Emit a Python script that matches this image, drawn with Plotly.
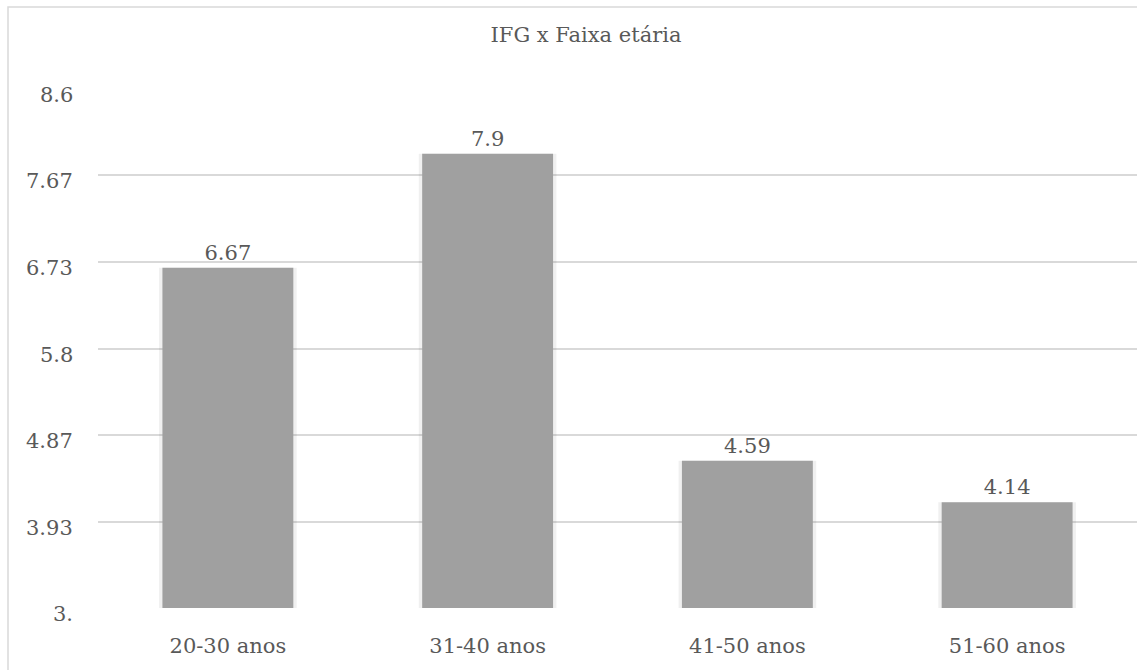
import plotly.graph_objects as go

categories = ["20-30 anos", "31-40 anos", "41-50 anos", "51-60 anos"]
values = [6.67, 7.9, 4.59, 4.14]
value_labels = ["6.67", "7.9", "4.59", "4.14"]
y_tickvals = [3.0, 3.93, 4.87, 5.8, 6.73, 7.67, 8.6]
y_ticktext = ["3.", "3.93", "4.87", "5.8", "6.73", "7.67", "8.6"]
title_text = "IFG x Faixa etária"

W, H = 1137, 670
L, R, T, B = 98, 0, 89, 62
pw = W - L - R
ph = H - T - B

FONT = "DejaVu Serif"
FS = 21
TXT = "#595959"
GRID = "#d9d9d9"

fig = go.Figure()

# soft shadow behind bars
fig.add_trace(go.Bar(
    x=categories, y=[v - 3.0 for v in values], base=3.0,
    width=0.53, marker=dict(color="rgba(0,0,0,0.06)", line=dict(width=0)),
    hoverinfo="skip", showlegend=False,
))

fig.add_trace(go.Bar(
    x=categories, y=[v - 3.0 for v in values], base=3.0,
    width=0.504,
    marker=dict(color="#a0a0a0", line=dict(width=0)),
    text=value_labels, textposition="outside",
    textfont=dict(family=FONT, size=FS, color=TXT),
    cliponaxis=False, showlegend=False,
))

annotations = []
for tv, tt in zip(y_tickvals, y_ticktext):
    annotations.append(dict(
        x=0, xref="paper", y=tv, yref="y", text=tt, showarrow=False,
        xanchor="right", yanchor="middle", xshift=-23, yshift=-6,
        font=dict(family=FONT, size=FS, color=TXT),
    ))

fig.update_layout(
    width=W, height=H,
    margin=dict(l=L, r=R, t=T, b=B, pad=0),
    paper_bgcolor="white", plot_bgcolor="white",
    barmode="overlay",
    title=dict(text=title_text, x=586 / W, xanchor="center",
               y=1 - 35 / H, yanchor="middle", yref="container",
               font=dict(family=FONT, size=FS, color=TXT)),
    xaxis=dict(
        type="category", showgrid=False, showline=False, zeroline=False,
        ticks="", tickfont=dict(family=FONT, size=FS, color=TXT),
        ticklabelstandoff=23, range=[-0.5, 3.5],
    ),
    yaxis=dict(
        range=[3.0, 8.6], tickvals=y_tickvals, showticklabels=False,
        showgrid=True, gridcolor=GRID, gridwidth=2, zeroline=False,
        showline=False, ticks="",
    ),
    annotations=annotations,
    shapes=[dict(
        type="rect", xref="paper", yref="paper",
        x0=(8 - L) / pw, x1=(1164 - L) / pw,
        y0=-0.3, y1=(H - B - 7) / ph,
        line=dict(color=GRID, width=1.5), fillcolor="rgba(0,0,0,0)",
        layer="below",
    )],
    font=dict(family=FONT, color=TXT),
)

fig.write_html("out.html")
